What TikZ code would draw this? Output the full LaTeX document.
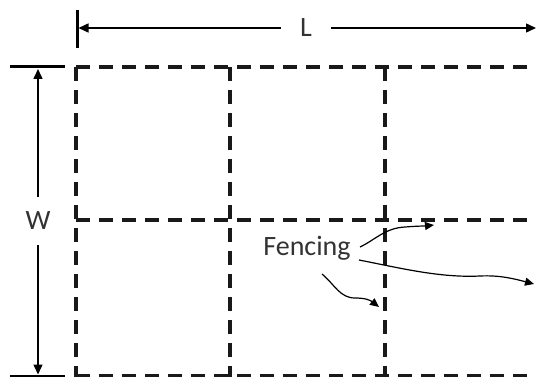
\documentclass[tikz,border=0pt]{standalone}
\usepackage{fontspec}
\setmainfont{Carlito}
\usetikzlibrary{arrows.meta}
\begin{document}
\begin{tikzpicture}[x=1pt,y=-1pt,
  fence/.style={line width=3.3pt, dash pattern=on 14pt off 9pt, black!90},
  dimbar/.style={line width=3pt},
  dimline/.style={line width=1.4pt, -{Triangle[length=10pt,width=9pt]}},
  pointer/.style={line width=1.2pt, -{Triangle[length=9pt,width=8pt]}},
  lbl/.style={font=\fontsize{28}{32}\selectfont, text=black!80, inner sep=0pt}]
\useasboundingbox (0,0) rectangle (536,377);
\clip (0,0) rectangle (536,377);
% grid of fencing
\draw[fence] (76,67) -- (548,67);
\draw[fence] (76,220) -- (548,220);
\draw[fence] (76,376) -- (548,376);
\draw[fence] (76,67) -- (76,390);
\draw[fence] (230,67) -- (230,390);
\draw[fence] (385,67) -- (385,390);
% dimension L
\coordinate (Lb1) at (77,10);
\coordinate (Lb2) at (77,48);
\draw[dimbar] (Lb1) -- (Lb2);
\node[lbl, minimum width=50pt, minimum height=20pt] (L) at (306,28) {L};
\coordinate (Lleft) at (78.5,28);
\coordinate (Lright) at (536,28);
\draw[dimline] (L) -- (Lleft);
\draw[dimline] (L) -- (Lright);
% dimension W
\coordinate (Wt1) at (10,67);
\coordinate (Wt2) at (65,67);
\coordinate (Wb1) at (10,376);
\coordinate (Wb2) at (65,376);
\draw[dimbar] (Wt1) -- (Wt2);
\draw[dimbar] (Wb1) -- (Wb2);
\node[lbl, minimum height=48pt, minimum width=20pt] (W) at (38,221) {W};
\coordinate (Wtop) at (38,69);
\coordinate (Wbot) at (38,374.5);
\draw[dimline] (W) -- (Wtop);
\draw[dimline] (W) -- (Wbot);
% label and pointers
\node[lbl] (F) at (307,248) {Fencing};
\coordinate (s1) at (360,247);
\coordinate (s2) at (359,260);
\coordinate (s3) at (322,274);
\coordinate (p1) at (434,225);
\coordinate (p2) at (534,284);
\coordinate (p3) at (379,307);
\draw[pointer] (s1) .. controls (375,240) and (385,228) .. (405,227) .. controls (418,226) and (425,226) .. (p1);
\draw[pointer] (s2) .. controls (400,268) and (440,278) .. (480,276) .. controls (500,275) and (515,279) .. (p2);
\draw[pointer] (s3) .. controls (335,285) and (340,298) .. (355,298) .. controls (365,298) and (370,300) .. (p3);
\end{tikzpicture}
\end{document}
